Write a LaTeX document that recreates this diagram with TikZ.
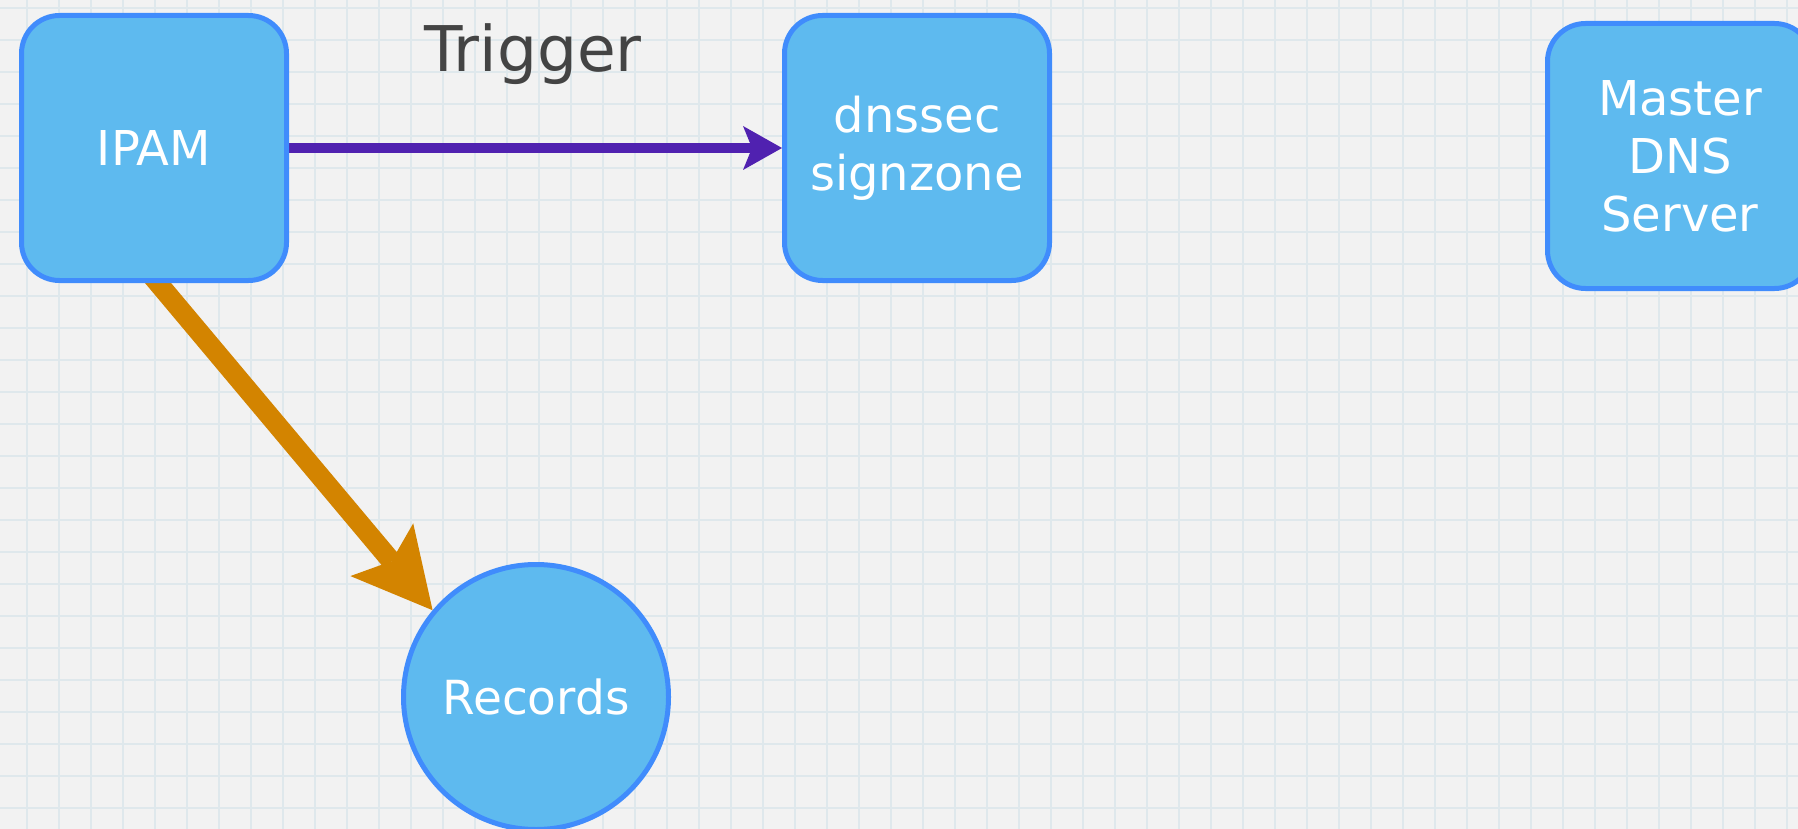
\documentclass[tikz,border=0pt]{standalone}
\usepackage{fontspec}
\usetikzlibrary{arrows.meta}
\newfontfamily\diagfont{DejaVu Sans}
\definecolor{paper}{RGB}{242,242,242}
\definecolor{gridblue}{RGB}{223,232,236}
\definecolor{boxfill}{RGB}{94,186,239}
\definecolor{boxline}{RGB}{64,140,252}
\definecolor{triggerpurple}{RGB}{80,33,176}
\definecolor{recordorange}{RGB}{211,132,0}
\definecolor{labelgrey}{RGB}{68,68,68}
\pgfdeclarelayer{background}
\pgfdeclarelayer{edges}
\pgfsetlayers{background,edges,main}

\tikzset{
  box/.style={draw=boxline, fill=boxfill, line width=5pt, rounded corners=38pt,
    minimum width=265pt, minimum height=265pt, text=white, align=center,
    font={\diagfont\fontsize{48}{58}\selectfont}},
  disc/.style={circle, draw=boxline, fill=boxfill, line width=5pt,
    minimum size=265pt, text=white, font={\diagfont\fontsize{47}{58}\selectfont}},
  gridline/.style={gridblue, line width=2pt},
  trigger/.style={triggerpurple, line width=10pt,
    -{Stealth[length=39pt, width=44pt, inset=9pt, line width=0pt]}},
  feed/.style={recordorange, line width=20pt,
    -{Stealth[length=79pt, width=82pt, inset=15pt, line width=0pt]}},
}

\begin{document}
\begin{tikzpicture}[x=1pt, y=-1pt]
  \useasboundingbox (0,0) rectangle (1798,829);
  \newcommand{\gap}{32}

  \begin{pgfonlayer}{background}
    \fill[paper] (0,0) rectangle (1798,829);
    \foreach \gx in {0,...,55}
      \draw[gridline] (27+\gap*\gx,0) -- (27+\gap*\gx,829);
    \foreach \gy in {0,...,25}
      \draw[gridline] (0,8+\gap*\gy) -- (1798,8+\gap*\gy);
  \end{pgfonlayer}

  \node[box] (ipam) at (154,148) {IPAM};
  \node[box] (signzone) at (917,148) {dnssec\\signzone};
  \node[box] (master) at (1680,156) {Master\\DNS\\Server};
  \node[disc] (records) at (536,697) {Records};

  \node[anchor=base, text=labelgrey, font={\diagfont\fontsize{63}{70}\selectfont}]
    (trigger-label) at (533,72) {Trigger};

  \begin{pgfonlayer}{edges}
    \draw[trigger] (ipam.east) -- (signzone.west);
    \draw[feed, shorten <=-15pt] ([xshift=4pt]ipam.south) -- (records.140);
  \end{pgfonlayer}

\end{tikzpicture}
\end{document}
